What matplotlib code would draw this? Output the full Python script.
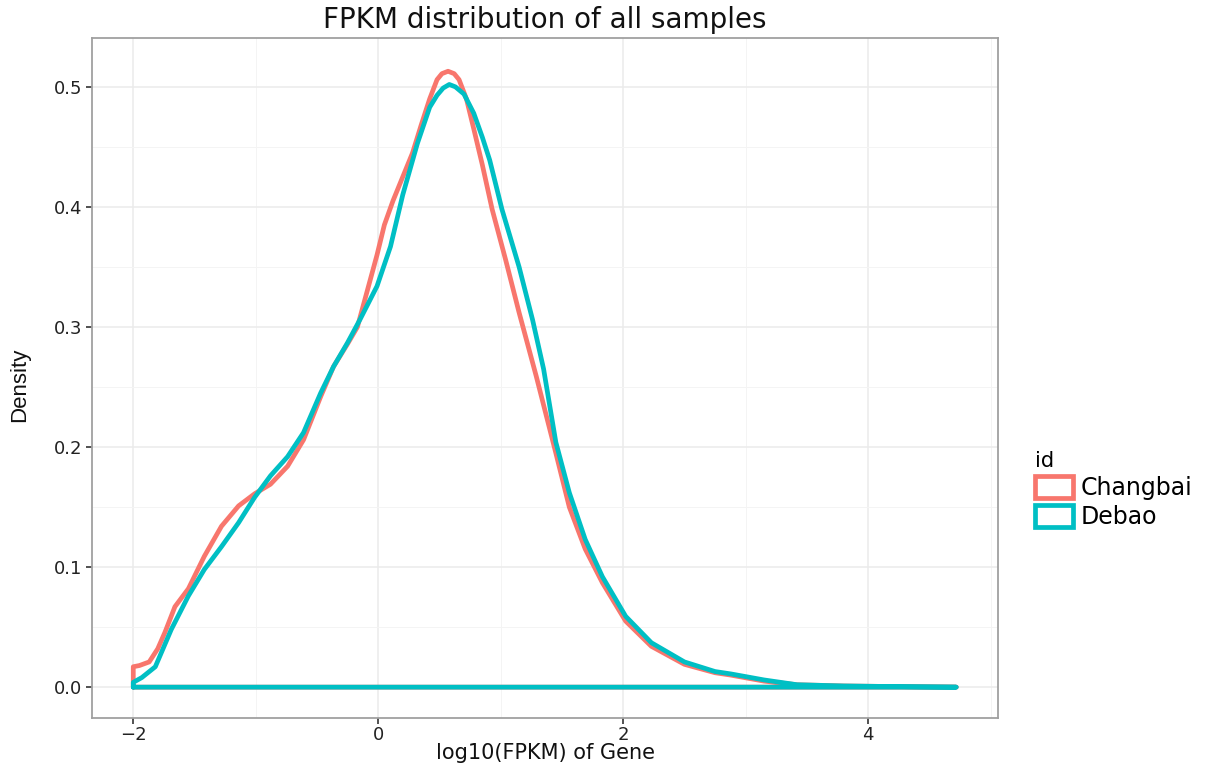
import matplotlib
matplotlib.use('Agg')
import matplotlib.pyplot as plt
from matplotlib.patches import Patch
from matplotlib.ticker import MultipleLocator

# density curves (log10 FPKM vs density)
changbai_x = [-2.0, -1.95, -1.87, -1.8, -1.74, -1.66, -1.55, -1.42, -1.28, -1.14, -1.01, -0.88,
              -0.74, -0.61, -0.47, -0.365, -0.25, -0.17, -0.09, -0.01, 0.05, 0.12, 0.2, 0.28,
              0.35, 0.42, 0.48, 0.52, 0.57, 0.62, 0.66, 0.72, 0.78, 0.85, 0.93, 1.04, 1.15,
              1.29, 1.45, 1.56, 1.69, 1.83, 2.02, 2.23, 2.5, 2.75, 2.88, 3.15, 3.42, 3.8, 4.2, 4.72]
changbai_y = [0.017, 0.018, 0.021, 0.032, 0.046, 0.067, 0.082, 0.109, 0.134, 0.151, 0.161, 0.169,
              0.184, 0.206, 0.242, 0.267, 0.286, 0.300, 0.330, 0.360, 0.385, 0.405, 0.425, 0.445,
              0.468, 0.490, 0.506, 0.511, 0.513, 0.511, 0.506, 0.490, 0.465, 0.435, 0.398, 0.356,
              0.312, 0.259, 0.195, 0.150, 0.115, 0.087, 0.055, 0.034, 0.019, 0.012, 0.010, 0.005,
              0.002, 0.001, 0.0005, 0.0]

debao_x = [-2.0, -1.93, -1.82, -1.69, -1.55, -1.42, -1.28, -1.14, -1.01, -0.88, -0.74, -0.61,
           -0.47, -0.365, -0.25, -0.15, -0.01, 0.10, 0.20, 0.32, 0.42, 0.48, 0.53, 0.58, 0.63,
           0.70, 0.78, 0.85, 0.91, 1.01, 1.15, 1.26, 1.35, 1.45, 1.56, 1.69, 1.83, 2.02, 2.23,
           2.5, 2.75, 2.88, 3.15, 3.42, 3.8, 4.2, 4.72]
debao_y = [0.004, 0.008, 0.017, 0.048, 0.076, 0.098, 0.117, 0.137, 0.158, 0.176, 0.192, 0.212,
           0.245, 0.267, 0.287, 0.306, 0.334, 0.367, 0.410, 0.453, 0.483, 0.493, 0.499, 0.502,
           0.500, 0.494, 0.478, 0.458, 0.439, 0.398, 0.350, 0.306, 0.265, 0.204, 0.162, 0.123,
           0.092, 0.059, 0.037, 0.021, 0.013, 0.011, 0.006, 0.002, 0.001, 0.0005, 0.0]

groups = ['Changbai', 'Debao']
colors = ['#F8766D', '#00BFC4']

plt.rcParams['font.family'] = ['DejaVu Sans']

fig = plt.figure(figsize=(12.11, 7.64), dpi=100)
ax = fig.add_axes([92 / 1211, 1 - 718 / 764, (998 - 92) / 1211, (718 - 38) / 764])

# geom_density outline: closed polygon down to the baseline
for xs, ys, c in [(changbai_x, changbai_y, colors[0]), (debao_x, debao_y, colors[1])]:
    px = [xs[0]] + list(xs) + [xs[0]]
    py = [0.0] + list(ys) + [0.0]
    ax.plot(px, py, color=c, lw=3.4, solid_joinstyle='round', solid_capstyle='round', zorder=3)

ax.set_xlim(-2.337, 5.06)
ax.set_ylim(-0.0257, 0.5407)
ax.xaxis.set_minor_locator(MultipleLocator(1))
ax.yaxis.set_minor_locator(MultipleLocator(0.05))
ax.set_xticks([-2, 0, 2, 4])
ax.set_xticklabels(['\u22122', '0', '2', '4'])
ax.set_yticks([0, 0.1, 0.2, 0.3, 0.4, 0.5])
ax.set_yticklabels(['0.0', '0.1', '0.2', '0.3', '0.4', '0.5'])

ax.grid(True, which='major', color='#ebebeb', lw=1.1, zorder=0)
ax.grid(True, which='minor', color='#f4f4f4', lw=0.7, zorder=0)
ax.tick_params(which='major', length=4, width=1.2, color='#333333', labelcolor='#222222',
               labelsize=13, pad=3)
ax.tick_params(axis='x', which='major', pad=2)
ax.tick_params(which='minor', length=0)
for sp in ax.spines.values():
    sp.set_color('#a0a0a0')
    sp.set_linewidth(1.3)

ax.set_title('FPKM distribution of all samples', fontsize=20, color='#111111', pad=7)
fig.text(545 / 1211, 1 - 753 / 764, 'log10(FPKM) of Gene', fontsize=15, color='#111111',
         ha='center', va='center')
fig.text(20 / 1211, 1 - 385 / 764, 'Density', fontsize=16, color='#111111', rotation=90,
         ha='center', va='center',
         family=['Liberation Sans Narrow', 'Liberation Sans', 'DejaVu Sans'])

handles = [Patch(facecolor='white', edgecolor=c, lw=3.4, label=g) for g, c in zip(groups, colors)]
leg = fig.legend(handles=handles, title='id', loc='center left',
                 bbox_to_anchor=(1026 / 1211, 1 - 490 / 764), frameon=False,
                 fontsize=17, title_fontsize=15, handlelength=1.6, handleheight=1.05,
                 handletextpad=0.3, labelspacing=0.2, borderaxespad=0)
leg._legend_box.align = 'left'

fig.savefig('out.png', dpi=100, facecolor='white')
